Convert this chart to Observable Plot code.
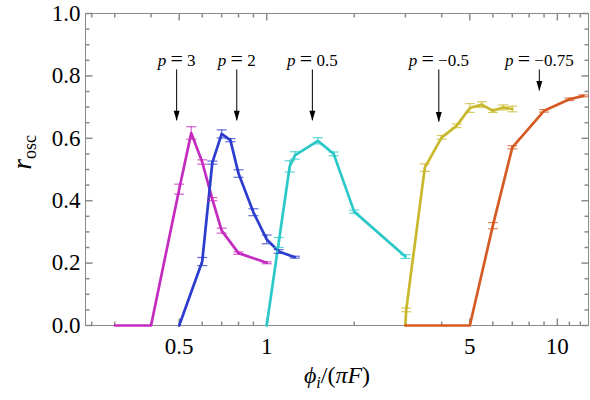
<!DOCTYPE html>
<html><head><meta charset="utf-8">
<script src="https://cdn.jsdelivr.net/npm/d3@7"></script>
<script src="https://cdn.jsdelivr.net/npm/@observablehq/plot@0.6"></script>
<style>body{margin:0;background:#fff}</style>
</head><body><div id="chart"></div>
<script>
// ---- data ----
const xP3 = [0.3, 0.4, 0.5, 0.55, 0.6, 0.65, 0.7, 0.8, 1.0];
const yP3 = [0, 0, 0.437, 0.617, 0.524, 0.405, 0.304, 0.232, 0.201];
const eP3 = [0, 0, 0.016, 0.02, 0.007, 0.005, 0.008, 0.004, 0.003];

const xP2 = [0.5, 0.6, 0.65, 0.7, 0.75, 0.8, 0.9, 1.0, 1.1, 1.25];
const yP2 = [0, 0.205, 0.522, 0.614, 0.594, 0.487, 0.363, 0.276, 0.237, 0.219];
const eP2 = [0, 0.013, 0.005, 0.013, 0.005, 0.012, 0.011, 0.014, 0.006, 0.003];

const xP05 = [1.0, 1.1, 1.2, 1.25, 1.5, 1.7, 2.0, 3.0];
const yP05 = [0, 0.266, 0.51, 0.545, 0.592, 0.55, 0.365, 0.221];
const eP05 = [0, 0.016, 0.018, 0.012, 0.01, 0.006, 0.005, 0.006];

const xM05 = [3.0, 3.02, 3.5, 4.0, 4.5, 5.0, 5.5, 6.0, 6.5, 7.0];
const yM05 = [0, 0.05, 0.506, 0.603, 0.64, 0.697, 0.708, 0.688, 0.699, 0.694];
const eM05 = [0, 0.006, 0.012, 0.006, 0.006, 0.014, 0.009, 0.005, 0.008, 0.009];

const xM075 = [3.0, 3.5, 4.0, 4.5, 5.0, 6.0, 7.0, 9.0, 11.0, 12.3];
const yM075 = [0, 0, 0, 0, 0, 0.32, 0.571, 0.688, 0.725, 0.736];
const eM075 = [0, 0, 0, 0, 0, 0.01, 0.005, 0.004, 0.004, 0.003];

const seriesNames = ["3", "2", "0.5", "−0.5", "−0.75"];
const seriesColors = ["#c42cbf", "#2c3cce", "#2bc8c8", "#c9b82c", "#d65a24"];

// annotations
const annLabels = ["3", "2", "0.5", "−0.5", "−0.75"];
const annX = [0.49, 0.789, 1.436, 3.91, 8.67];
const annTop = [0.819, 0.819, 0.819, 0.819, 0.819];
const annTip = [0.656, 0.656, 0.656, 0.652, 0.752];
const annTextY = [0.85, 0.85, 0.85, 0.85, 0.85];

// ticks
const xTickLabels = [0.5, 1, 5, 10];
const xMinor = [0.25, 0.3, 0.4, 0.6, 0.7, 0.8, 0.9, 2, 3, 4, 6, 7, 8, 9, 11, 12];
const yTickLabels = [0, 0.2, 0.4, 0.6, 0.8, 1.0];
const yMinor = [0.05, 0.1, 0.15, 0.25, 0.3, 0.35, 0.45, 0.5, 0.55, 0.65, 0.7, 0.75, 0.85, 0.9, 0.95];

// ---- build ----
const allX = [xP3, xP2, xP05, xM05, xM075];
const allY = [yP3, yP2, yP05, yM05, yM075];
const allE = [eP3, eP2, eP05, eM05, eM075];
const series = seriesNames.map((p, k) => ({
  p, color: seriesColors[k],
  rows: allX[k].map((x, i) => ({x, y: allY[k][i], e: allE[k][i]}))
}));
const ann = annLabels.map((l, i) => ({label: l, x: annX[i], top: annTop[i], tip: annTip[i], ty: annTextY[i]}));

const seg = (x1, y1, x2, y2) => ({draw(ctx) { ctx.moveTo(x1, y1); ctx.lineTo(x2, y2); }});
const capSym = seg(-5, 0, 5, 0);
const headSym = {draw(ctx) { ctx.moveTo(0, 0); ctx.lineTo(-3, -10); ctx.lineTo(3, -10); ctx.closePath(); }};
const MAJ = 7, MIN = 4;
const tickCol = "#8a8a8a";

const marks = [
  Plot.frame({stroke: tickCol, strokeWidth: 1}),
  Plot.dot(xTickLabels, {x: d => d, frameAnchor: "bottom", symbol: seg(0, 0, 0, -MAJ), stroke: tickCol, fill: "none"}),
  Plot.dot(xMinor, {x: d => d, frameAnchor: "bottom", symbol: seg(0, 0, 0, -MIN), stroke: tickCol, fill: "none"}),
  Plot.dot(xTickLabels, {x: d => d, frameAnchor: "top", symbol: seg(0, 0, 0, MAJ), stroke: tickCol, fill: "none"}),
  Plot.dot(xMinor, {x: d => d, frameAnchor: "top", symbol: seg(0, 0, 0, MIN), stroke: tickCol, fill: "none"}),
  Plot.dot(yTickLabels, {y: d => d, frameAnchor: "left", symbol: seg(0, 0, MAJ, 0), stroke: tickCol, fill: "none"}),
  Plot.dot(yMinor, {y: d => d, frameAnchor: "left", symbol: seg(0, 0, MIN, 0), stroke: tickCol, fill: "none"}),
  Plot.dot(yTickLabels, {y: d => d, frameAnchor: "right", symbol: seg(0, 0, -MAJ, 0), stroke: tickCol, fill: "none"}),
  Plot.dot(yMinor, {y: d => d, frameAnchor: "right", symbol: seg(0, 0, -MIN, 0), stroke: tickCol, fill: "none"}),
  Plot.axisX({ticks: xTickLabels, tickSize: 0, tickPadding: 12, tickFormat: d => String(d), label: null, fontSize: 23, fill: "black"}),
  Plot.axisY({ticks: yTickLabels, tickSize: 0, tickPadding: 5, tickFormat: d3.format(".1f"), label: null, fontSize: 23, fill: "black"}),
];
for (const s of series) {
  marks.push(Plot.line(s.rows, {x: "x", y: "y", stroke: s.color, strokeWidth: 2.7, strokeLinejoin: "round"}));
}
for (const s of series) {
  const er = s.rows.filter(d => d.e > 0);
  marks.push(Plot.ruleX(er, {x: "x", y1: d => d.y - d.e, y2: d => d.y + d.e, stroke: s.color, strokeWidth: 1.2, strokeOpacity: 0.75}));
  marks.push(Plot.dot(er, {x: "x", y: d => d.y - d.e, symbol: capSym, stroke: s.color, fill: "none", strokeWidth: 1.2, strokeOpacity: 0.75}));
  marks.push(Plot.dot(er, {x: "x", y: d => d.y + d.e, symbol: capSym, stroke: s.color, fill: "none", strokeWidth: 1.2, strokeOpacity: 0.75}));
}
marks.push(
  Plot.ruleX(ann, {x: "x", y1: "top", y2: "tip", stroke: "black", strokeWidth: 1}),
  Plot.dot(ann, {x: "x", y: "tip", symbol: headSym, fill: "black", stroke: "none"}),
  Plot.text(ann, {x: "x", y: "ty", text: d => "p = " + d.label, fontSize: 17, fill: "black"}),
  Plot.text(["XLABEL"], {frameAnchor: "bottom", dy: 57, text: d => d, fontSize: 24, fill: "black"}),
  Plot.text(["YLABEL"], {frameAnchor: "left", dx: -62, rotate: -90, text: d => d, fontSize: 23, fill: "black"})
);

const chart = Plot.plot({
  width: 590, height: 400,
  marginLeft: 85, marginRight: 2, marginTop: 13, marginBottom: 75,
  x: {type: "log", domain: [0.238, 12.8]},
  y: {domain: [0, 1]},
  style: {fontFamily: "'Liberation Serif', serif", background: "white", color: "black"},
  marks
});
document.getElementById("chart").appendChild(chart);

// rich text (italic / subscripts)
function rich(el, parts) {
  const t = d3.select(el);
  t.text(null);
  for (const p of parts) {
    const ts = t.append("tspan").text(p.t);
    if (p.i) ts.attr("font-style", "italic");
    if (p.s) ts.attr("font-size", p.s);
    if (p.dy) ts.attr("dy", p.dy);
  }
}
d3.select(chart).selectAll("text").each(function() {
  const s = this.textContent;
  if (s.startsWith("p = ")) {
    rich(this, [{t: "p", i: true}, {t: " "}, {t: "=", s: 22, dy: 0}, {t: " " + s.slice(4)}]);
  } else if (s === "XLABEL") {
    rich(this, [{t: "ϕ", i: true}, {t: "i", i: true, s: 16, dy: 5}, {t: "/(", dy: -5}, {t: "πF", i: true}, {t: ")"}]);
  } else if (s === "YLABEL") {
    rich(this, [{t: "r", i: true, s: 27}, {t: "osc", s: 18, dy: 5}]);
  }
});
</script>
</body></html>
